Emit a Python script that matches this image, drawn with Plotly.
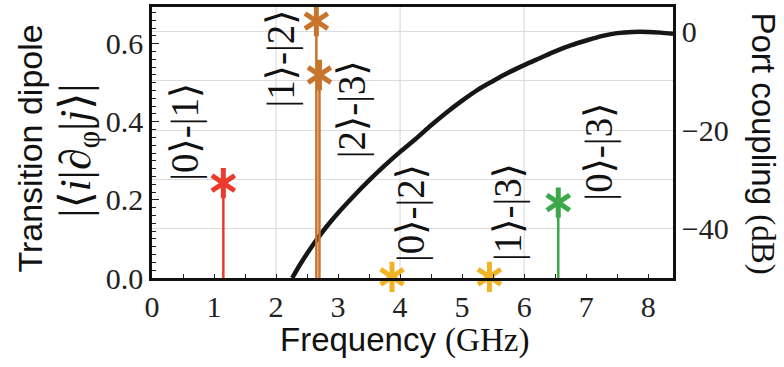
import plotly.graph_objects as go

# ---- data ----
freq_ghz = [2.26, 2.40, 2.60, 2.80, 3.00, 3.25, 3.50, 3.75, 4.00, 4.25, 4.50, 4.75,
            5.00, 5.25, 5.50, 5.75, 6.00, 6.25, 6.50, 6.75, 7.00, 7.25, 7.50, 7.75,
            8.00, 8.20, 8.40]
coupling_db = [-50.0, -47.0, -43.2, -39.8, -36.8, -33.4, -30.2, -27.2, -24.4, -21.8, -19.0, -16.4,
               -14.0, -11.8, -10.0, -8.3, -6.8, -5.4, -4.0, -2.8, -1.8, -0.9, -0.3, -0.05,
               -0.05, -0.2, -0.45]

transitions = ["|0⟩-|1⟩", "|1⟩-|2⟩", "|2⟩-|3⟩", "|0⟩-|2⟩", "|1⟩-|3⟩", "|0⟩-|3⟩"]
trans_freq = [1.15, 2.65, 2.70, 3.87, 5.44, 6.55]
trans_dipole = [0.243, 0.658, 0.520, 0.003, 0.003, 0.193]

x_ticks = [0, 1, 2, 3, 4, 5, 6, 7, 8]
dipole_ticks = [0.0, 0.2, 0.4, 0.6]
db_ticks = [0, -20, -40]

# ---- styles / layout ----
trans_color = ["#ea3b2e", "#c8742c", "#c8742c", "#efb325", "#efb325", "#3ba94a"]
label_pos = [(0.52, 0.375), (2.08, 0.562), (3.23, 0.433), (4.18, 0.167), (5.73, 0.170), (7.21, 0.324)]
grid_x = [2, 4, 6]

SERIF = "'Liberation Serif', 'DejaVu Serif', serif"
SANS = "'Liberation Sans', Arial, sans-serif"

fig = go.Figure()

# coupling curve (dB axis, drawn beneath stems)
fig.add_trace(go.Scatter(x=freq_ghz, y=coupling_db, mode="lines",
                         line=dict(color="#161616", width=4.5, shape="spline", smoothing=0.8),
                         xaxis="x", yaxis="y", hoverinfo="skip", showlegend=False))

# stems
for f, v, c in zip(trans_freq, trans_dipole, trans_color):
    fig.add_trace(go.Scatter(x=[f, f], y=[0, v], mode="lines",
                             line=dict(color=c, width=2.5),
                             xaxis="x", yaxis="y2", showlegend=False, cliponaxis=False))

# asterisk markers (two 3-armed symbols -> 6 arms)
for sym in ["y-up-open", "y-down-open"]:
    fig.add_trace(go.Scatter(x=trans_freq, y=trans_dipole, mode="markers",
                             marker=dict(symbol=sym, size=19, color=trans_color,
                                         line=dict(color=trans_color, width=5)),
                             xaxis="x", yaxis="y2", showlegend=False, cliponaxis=False))

annotations = []
for t, (lx, ly) in zip(transitions, label_pos):
    annotations.append(dict(x=lx, y=ly, xref="x", yref="y2", text=t, showarrow=False,
                            textangle=-90, font=dict(family=SERIF, size=39, color="#111"),
                            xanchor="center", yanchor="middle"))

annotations += [
    dict(x=0.484, y=-0.23, xref="paper", yref="paper", showarrow=False,
         text="Frequency <span style=\"font-family:'Liberation Serif'\">(GHz)</span>",
         font=dict(family=SANS, size=33, color="#111"), xanchor="center", yanchor="middle"),
    dict(x=-0.234, y=0.478, xref="paper", yref="paper", showarrow=False, textangle=-90,
         text="Transition dipole", font=dict(family=SANS, size=34, color="#111"),
         xanchor="center", yanchor="middle"),
    dict(x=-0.142, y=0.471, xref="paper", yref="paper", showarrow=False, textangle=-90,
         text="|⟨<i>i</i>|∂<sub>φ</sub>|<i>j</i>⟩|", font=dict(family=SERIF, size=44, color="#111"),
         xanchor="center", yanchor="middle"),
    dict(x=1.173, y=0.496, xref="paper", yref="paper", showarrow=False, textangle=90,
         text="Port coupling <span style=\"font-family:'Liberation Serif'\">(dB)</span>",
         font=dict(family=SANS, size=33, color="#111"), xanchor="center", yanchor="middle"),
]

shapes = [dict(type="line", xref="x", yref="paper", x0=g, x1=g, y0=0, y1=1,
               line=dict(color="#dcdcdc", width=1.2), layer="below") for g in grid_x]

fig.update_layout(
    width=784, height=367,
    margin=dict(l=152, r=111, t=4, b=89),
    paper_bgcolor="white", plot_bgcolor="white",
    showlegend=False,
    annotations=annotations, shapes=shapes,
    xaxis=dict(range=[0, 8.4], tickvals=x_ticks, ticks="inside", ticklen=4, tickwidth=1,
               tickcolor="#222", showgrid=False, zeroline=False,
               showline=True, linecolor="#111", linewidth=2.5, mirror=True,
               tickfont=dict(family=SERIF, size=30, color="#222"),
               minor=dict(dtick=0.5, ticks="inside", ticklen=4, tickcolor="#222", showgrid=False)),
    yaxis=dict(range=[-50, 5], side="right", tickvals=db_ticks, ticks="", showgrid=True,
               gridcolor="#dcdcdc", gridwidth=1.2, zeroline=False,
               showline=True, linecolor="#111", linewidth=2.5,
               tickfont=dict(family=SERIF, size=30, color="#222"),
               minor=dict(tickvals=[-10, -30], ticks="", showgrid=True, gridcolor="#dcdcdc", gridwidth=1.2)),
    yaxis2=dict(range=[0, 0.694], overlaying="y", side="left", tickvals=dipole_ticks,
                tickformat=".1f", ticks="inside", ticklen=7, tickwidth=1, tickcolor="#222",
                showgrid=False, zeroline=False,
                showline=True, linecolor="#111", linewidth=2.5,
                tickfont=dict(family=SERIF, size=30, color="#222"),
                minor=dict(dtick=0.02, ticks="inside", ticklen=4, tickcolor="#222", showgrid=False)),
)

fig.write_html("out.html")
